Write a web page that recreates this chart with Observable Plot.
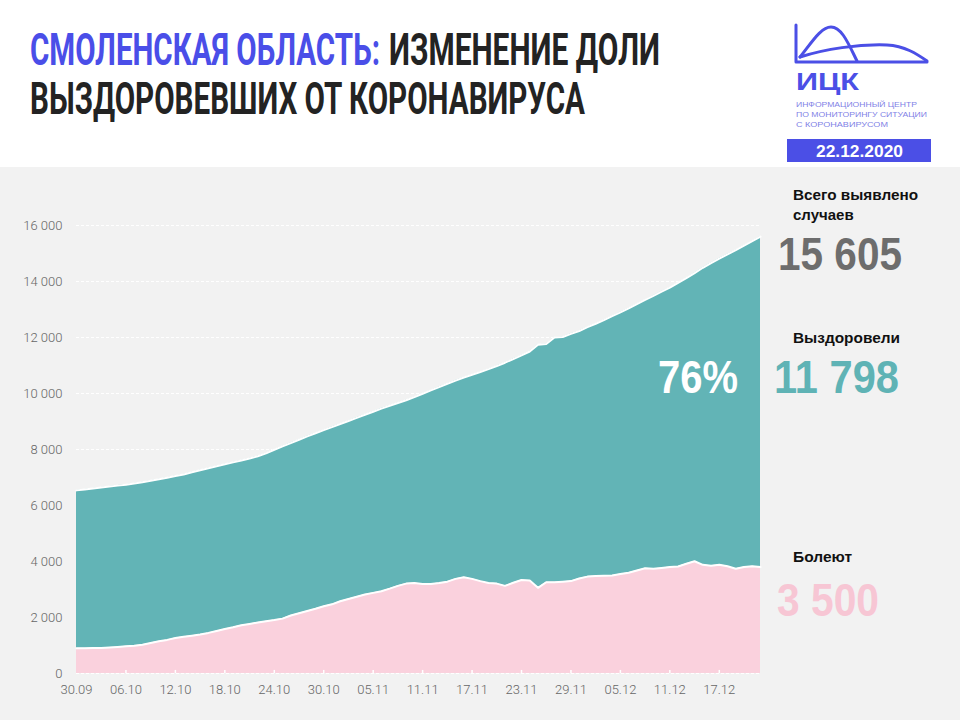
<!DOCTYPE html>
<html>
<head>
<meta charset="utf-8">
<script src="https://cdn.jsdelivr.net/npm/d3@7"></script>
<script src="https://cdn.jsdelivr.net/npm/@observablehq/plot@0.6"></script>
<style>
  html, body { margin: 0; padding: 0; background: #fff; }
  #page { position: relative; width: 960px; height: 720px; overflow: hidden; background: #fff; }
  #gray { position: absolute; left: 0; top: 167px; width: 960px; height: 553px; background: #f2f2f2; }
  #chart { position: absolute; left: 0; top: 167px; }
  #overlay { position: absolute; left: 0; top: 0; }
  .sm { font-family: 'Liberation Sans', sans-serif; font-size: 7.5px; fill: #7f82e6; }
</style>
</head>
<body>
<div id="page">
  <div id="gray"></div>
  <div id="chart"></div>
  <svg id="overlay" width="960" height="720" xmlns="http://www.w3.org/2000/svg">
    <!-- title -->
    <g font-family="Roboto, 'Liberation Sans', sans-serif" font-weight="700" font-size="45">
      <text x="30" y="65" fill="#4a4ee8" textLength="350" lengthAdjust="spacingAndGlyphs">СМОЛЕНСКАЯ ОБЛАСТЬ:</text>
      <text x="389" y="65" fill="#232323" textLength="271" lengthAdjust="spacingAndGlyphs">ИЗМЕНЕНИЕ ДОЛИ</text>
      <text x="30" y="114" fill="#232323" textLength="555" lengthAdjust="spacingAndGlyphs">ВЫЗДОРОВЕВШИХ ОТ КОРОНАВИРУСА</text>
    </g>
    <!-- logo -->
    <g fill="none" stroke="#4b4fe6" stroke-width="3" stroke-linejoin="round" stroke-linecap="round">
      <path d="M796,25 V62 H927"/>
      <path d="M800,57 C812,42 821,27 831,27 C842,27 849,45 857,61"/>
      <path d="M800,57 C825,49 858,44 887,45 C905,46 917,54 927,61"/>
    </g>
    <text x="796" y="90" style="font-family:'Liberation Sans',sans-serif;font-weight:700;font-size:24px;fill:#4b4fe6" textLength="63" lengthAdjust="spacingAndGlyphs">ИЦК</text>
    <text class="sm" x="796" y="107" style="font-size:7.5px" textLength="121" lengthAdjust="spacingAndGlyphs">ИНФОРМАЦИОННЫЙ ЦЕНТР</text>
    <text class="sm" x="796" y="117" style="font-size:7.5px" textLength="131" lengthAdjust="spacingAndGlyphs">ПО МОНИТОРИНГУ СИТУАЦИИ</text>
    <text class="sm" x="796" y="127" style="font-size:7.5px" textLength="92" lengthAdjust="spacingAndGlyphs">С КОРОНАВИРУСОМ</text>
    <rect x="787" y="139" width="144" height="23" fill="#4b4fe6"/>
    <text x="816" y="157" fill="#fff" font-family="'Liberation Sans', sans-serif" font-weight="700" font-size="17" textLength="87" lengthAdjust="spacingAndGlyphs">22.12.2020</text>
    <!-- right-side labels -->
    <g font-family="'Liberation Sans', sans-serif" font-weight="700" font-size="15" fill="#111">
      <text x="793" y="200" textLength="125" lengthAdjust="spacingAndGlyphs">Всего выявлено</text>
      <text x="793" y="220">случаев</text>
      <text x="793" y="343" textLength="107" lengthAdjust="spacingAndGlyphs">Выздоровели</text>
      <text x="793" y="562" textLength="59" lengthAdjust="spacingAndGlyphs">Болеют</text>
    </g>
    <g font-family="'Liberation Sans', sans-serif" font-weight="700" font-size="46">
      <text x="778" y="270" fill="#6d6d6d" textLength="124" lengthAdjust="spacingAndGlyphs">15 605</text>
      <text x="774" y="393" fill="#5fb3b5" textLength="125" lengthAdjust="spacingAndGlyphs">11 798</text>
      <text x="777" y="616" fill="#f7c6d4" textLength="102" lengthAdjust="spacingAndGlyphs">3 500</text>
      <text x="658" y="393" fill="#ffffff" textLength="80" lengthAdjust="spacingAndGlyphs">76%</text>
    </g>
  </svg>
</div>
<script>
// Daily series, 30.09.2020 – 22.12.2020 (84 days)
const startDate = Date.UTC(2020, 8, 30);
const totalCases = [
  6540, 6570, 6605, 6640, 6675, 6710, 6745, 6785, 6830, 6880,
  6935, 6990, 7050, 7105, 7190, 7260, 7330, 7400, 7470, 7540,
  7610, 7680, 7760, 7860, 7990, 8110, 8230, 8350, 8470, 8580,
  8690, 8800, 8910, 9020, 9130, 9240, 9350, 9460, 9560, 9660,
  9760, 9870, 9990, 10110, 10230, 10350, 10460, 10570, 10670, 10770,
  10870, 10980, 11100, 11230, 11360, 11500, 11740, 11770, 12000, 12020,
  12130, 12230, 12370, 12490, 12620, 12760, 12900, 13040, 13190, 13340,
  13490, 13640, 13780, 13950, 14120, 14300, 14490, 14660, 14820, 14970,
  15120, 15280, 15440, 15605
];
const activeCases = [
  900, 905, 910, 915, 930, 950, 975, 990, 1030, 1090,
  1150, 1200, 1270, 1310, 1350, 1395, 1450, 1520, 1590, 1650,
  1720, 1770, 1820, 1870, 1910, 1960, 2070, 2150, 2230, 2310,
  2400, 2470, 2580, 2660, 2740, 2820, 2880, 2940, 3030, 3130,
  3210, 3230, 3200, 3200, 3230, 3280, 3380, 3440, 3380, 3300,
  3230, 3210, 3130, 3240, 3340, 3320, 3060, 3260, 3260, 3280,
  3300, 3390, 3460, 3480, 3490, 3500, 3550, 3600, 3680, 3760,
  3740, 3770, 3800, 3820, 3920, 4010, 3880, 3850, 3880, 3830,
  3740, 3800, 3830, 3800
];
const xTickLabels = ["30.09","06.10","12.10","18.10","24.10","30.10","05.11","11.11","17.11","23.11","29.11","05.12","11.12","17.12"];
const yTicks = [0, 2000, 4000, 6000, 8000, 10000, 12000, 14000, 16000];

const rows = totalCases.map((t, i) => ({
  date: new Date(startDate + i * 864e5),
  total: t,
  active: activeCases[i]
}));
const tickDates = xTickLabels.map(s => {
  const [dd, mm] = s.split(".").map(Number);
  return new Date(Date.UTC(2020, mm - 1, dd));
});
const labelOf = new Map(tickDates.map((d, i) => [+d, xTickLabels[i]]));

const teal = "#62b4b6";
const pink = "#fad1dd";

const chart = Plot.plot({
  width: 960,
  height: 553,
  marginTop: 58,
  marginBottom: 47,
  marginLeft: 76,
  marginRight: 200,
  style: {background: "transparent", fontFamily: "Roboto, 'Liberation Sans', sans-serif", fontSize: "13px", overflow: "visible"},
  x: {type: "utc", domain: [rows[0].date, rows[rows.length - 1].date]},
  y: {domain: [0, 16000]},
  marks: [
    Plot.gridY(yTicks, {stroke: "#ffffff", strokeOpacity: 1, strokeWidth: 1, strokeDasharray: "3,2"}),
    Plot.areaY(rows, {x: "date", y: "total", fill: teal}),
    Plot.lineY(rows, {x: "date", y: "total", stroke: "#ffffff", strokeWidth: 2}),
    Plot.areaY(rows, {x: "date", y: "active", fill: pink}),
    Plot.lineY(rows, {x: "date", y: "active", stroke: "#ffffff", strokeWidth: 2}),
    Plot.ruleX(tickDates.slice(1), {x: d => d, y1: 0, y2: 110, stroke: "#ffffff", strokeWidth: 1.5}),
    Plot.axisY(yTicks, {tickSize: 0, tickPadding: 14, fill: "#666", fontWeight: 300,
      tickFormat: d => d3.format(",")(d).replace(/,/g, " ")}),
    Plot.axisX(tickDates, {tickSize: 0, tickPadding: 11, fill: "#666", fontWeight: 300,
      tickFormat: d => labelOf.get(+d)})
  ]
});
document.getElementById("chart").appendChild(chart);
</script>
</body>
</html>
